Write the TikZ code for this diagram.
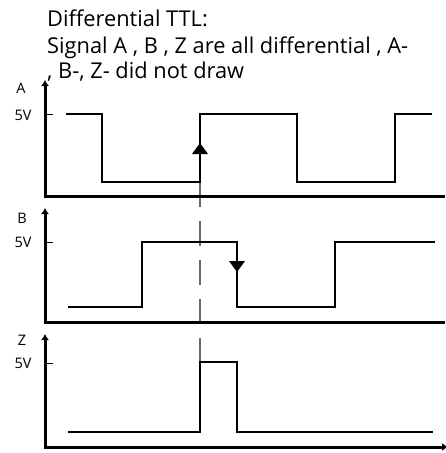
\documentclass[tikz,border=0pt]{standalone}
\usepackage{fontspec}
\setmainfont{Open Sans}
\usetikzlibrary{arrows.meta}
\begin{document}
\begin{tikzpicture}[x=1pt,y=-1pt,
  axis/.style={line width=3pt,-{Latex[length=6pt,width=8pt]}},
  haxis/.style={line width=3pt},
  sig/.style={line width=2.4pt,line join=miter},
  tick/.style={line width=1pt},
  lbl/.style={font=\fontsize{14.5}{16}\selectfont,inner sep=0pt},
  ttl/.style={font=\fontsize{21.8}{26}\selectfont,inner sep=0pt,anchor=base west},
  dashline/.style={line width=1.3pt,gray!80!black,dash pattern=on 25pt off 14pt},
  head/.style={fill=black,draw=none}]
\useasboundingbox (0,0) rectangle (445,453);
% title
\node[ttl] (t1) at (47,26) {Differential TTL:};
\node[ttl] (t2) at (47,53) {Signal A , B , Z are all differential , A-};
\node[ttl] (t3) at (47,78) {, B-, Z- did not draw};
% labels
\node[lbl] (la) at (21,88) {A};
\node[lbl] (lb) at (22,218) {B};
\node[lbl] (lz) at (22,340) {Z};
\node[lbl] (va) at (23,115) {5V};
\node[lbl] (vb) at (23,242) {5V};
\node[lbl] (vz) at (23,363) {5V};
% axis coordinates
\coordinate (oa) at (45,196);
\coordinate (ob) at (45,322);
\coordinate (oz) at (45,447);
\coordinate (ta) at (45,80);
\coordinate (tb) at (45,208);
\coordinate (tz) at (45,334);
\coordinate (ea) at (445,196);
\coordinate (eb) at (445,322);
\coordinate (ez) at (448,447);
% dashed line
\coordinate (d1) at (200,182);
\coordinate (d2) at (200,362);
\draw[dashline] (d1) -- (d2);
% axes
\draw[axis] (oa) -- (ta);
\draw[haxis] ([xshift=-1.5pt]oa) -- (ea);
\draw[axis] (ob) -- (tb);
\draw[haxis] ([xshift=-1.5pt]ob) -- (eb);
\draw[axis] (oz) -- (tz);
\draw[axis] ([xshift=-1.5pt]oz) -- (ez);
% ticks
\draw[tick] (45,114) -- (53,114);
\draw[tick] (45,242) -- (53,242);
\draw[tick] (45,363) -- (53,363);
% signals
\draw[sig] (66,114) -- (102,114) -- (102,182) -- (200,182) -- (200,114) -- (297,114) -- (297,182) -- (395,182) -- (395,114) -- (432,114);
\draw[sig] (68,307) -- (142,307) -- (142,242) -- (237,242) -- (237,307) -- (335,307) -- (335,242) -- (435,242);
\draw[sig] (68,432) -- (200,432) -- (200,362) -- (237,362) -- (237,432) -- (433,432);
% edge arrowheads
\fill[head] (192,154) -- (208,154) -- (200,143) -- cycle;
\fill[head] (229,261) -- (245,261) -- (237,272) -- cycle;
\end{tikzpicture}
\end{document}
